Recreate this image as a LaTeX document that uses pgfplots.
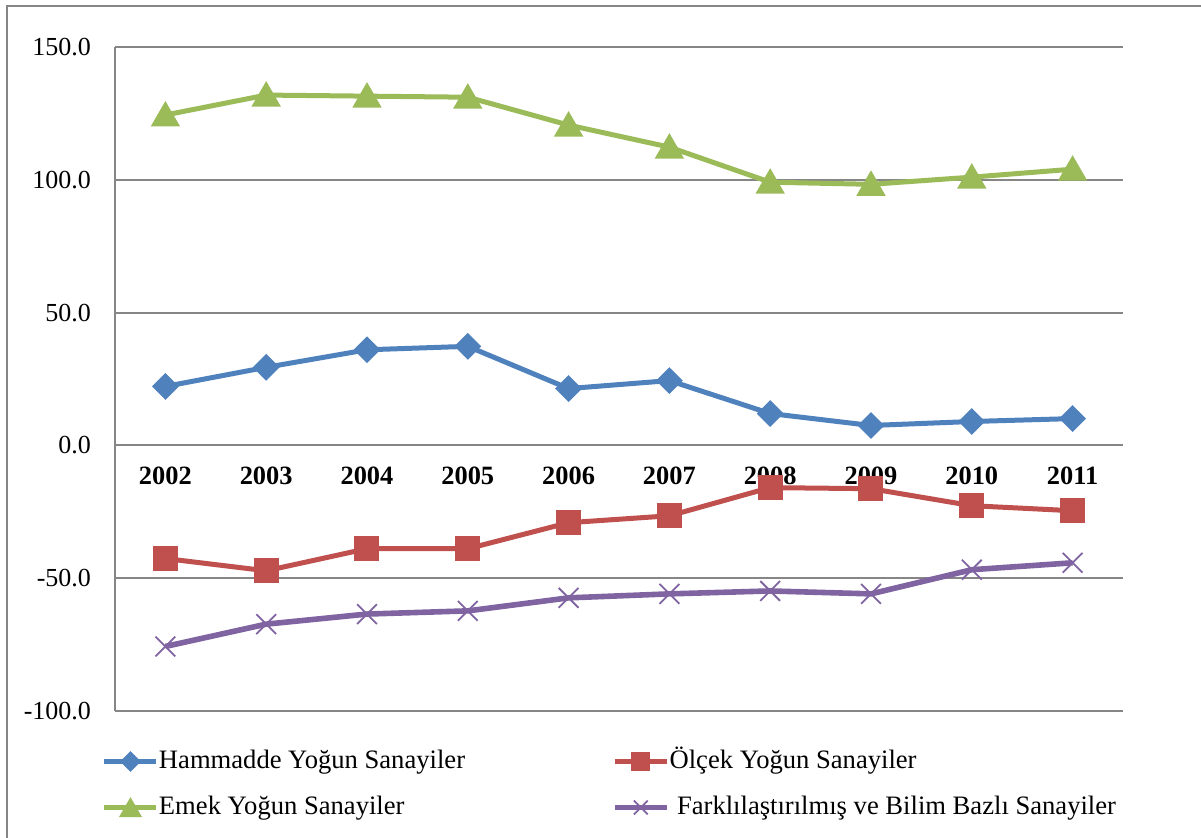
\documentclass[border=0pt]{standalone}
\usepackage{pgfplots}
\pgfplotsset{compat=1.18}
\usepackage{pgfplotstable}
\usepackage{fontspec}
\setmainfont{Liberation Serif}
\definecolor{cblue}{HTML}{4F81BD}
\definecolor{cred}{HTML}{C0504D}
\definecolor{cgreen}{HTML}{9BBB59}
\definecolor{cpurple}{HTML}{8064A2}
\definecolor{cgrid}{HTML}{868686}

\pgfplotstableread{
x y
0 22.2
1 29.4
2 36.0
3 37.3
4 21.4
5 24.4
6 12.0
7 7.5
8 9.0
9 10.1
}\hammadde
\pgfplotstableread{
x y
0 -42.6
1 -47.2
2 -38.9
3 -38.9
4 -29.1
5 -26.5
6 -15.9
7 -16.3
8 -22.7
9 -24.6
}\olcek
\pgfplotstableread{
x y
0 124.4
1 131.9
2 131.5
3 131.1
4 120.6
5 112.3
6 99.1
7 98.3
8 101.0
9 104.0
}\emek
\pgfplotstableread{
x y
0 -75.7
1 -67.3
2 -63.5
3 -62.3
4 -57.4
5 -55.9
6 -54.8
7 -55.9
8 -46.8
9 -44.2
}\farkli

\begin{document}
\begin{tikzpicture}
\begin{axis}[
  at={(0,0)}, anchor=south west,
  scale only axis,
  width=504pt, height=332pt,
  xmin=-0.5, xmax=9.5,
  ymin=-100, ymax=150,
  xtick={0,...,9},
  xticklabels={2002,2003,2004,2005,2006,2007,2008,2009,2010,2011},
  ytick={-100,-50,0,50,100,150},
  yticklabels={-100.0,-50.0,0.0,50.0,100.0,150.0},
  axis lines*=left,
  axis line style={-, draw=cgrid, line width=1pt},
  x axis line style={draw=none},
  major tick length=0pt,
  ymajorgrids,
  grid style={draw=cgrid, line width=1pt},
  tick label style={font=\fontsize{13}{15}\selectfont},
  yticklabel style={xshift=-8.5pt},
  xticklabel style={anchor=base, yshift=113.25pt, font=\fontsize{13.2}{15}\selectfont\bfseries},
  legend columns=2,
  legend style={at={(rel axis cs:0,0)}, anchor=north west,
    xshift=-6.5pt, yshift=-18.5pt, draw=none, fill=none,
    inner sep=0pt, outer sep=0pt,
    font=\fontsize{13.3}{15}\selectfont,
    nodes={inner xsep=0pt, inner ysep=0pt, text height=10pt, text depth=3.5pt},
    row sep=9.5pt, column sep=0pt},
  legend cell align=left,
  legend image code/.code={\draw[mark repeat=2,mark phase=2,#1, every mark/.append style={scale=0.7}] plot coordinates {(0pt,0pt) (13pt,0pt) (26pt,0pt)};},
  clip=false,
]
\addplot[cblue, line width=2.5pt, mark=square*, mark size=3.5pt, mark options={rotate=45, solid}] table[x=x,y=y] {\hammadde};
\addlegendentry{\makebox[226.5pt][l]{Hammadde Yoğun Sanayiler}}
\addplot[cred, line width=2.5pt, mark=square*, mark size=5pt, mark options={solid}] table[x=x,y=y] {\olcek};
\addlegendentry{Ölçek Yoğun Sanayiler}
\addplot[cgreen, line width=2.5pt, mark=triangle*, mark size=6pt, mark options={solid, yshift=-1.5pt}] table[x=x,y=y] {\emek};
\addlegendentry{\makebox[226.5pt][l]{Emek Yoğun Sanayiler}}
\addplot[cpurple, line width=2.8pt, mark=x, mark size=7pt, mark options={solid, line width=0.9pt}] table[x=x,y=y] {\farkli};
\addlegendentry{\hspace{3.75pt}Farklılaştırılmış ve Bilim Bazlı Sanayiler}
\end{axis}
\draw[cgrid, line width=1pt] (-54pt,-80pt) -- (-54pt,352.5pt) -- (560pt,352.5pt);
\pgfresetboundingbox
\path[use as bounding box] (-57.5pt,-63pt) rectangle (543pt,355.5pt);
\end{tikzpicture}
\end{document}
